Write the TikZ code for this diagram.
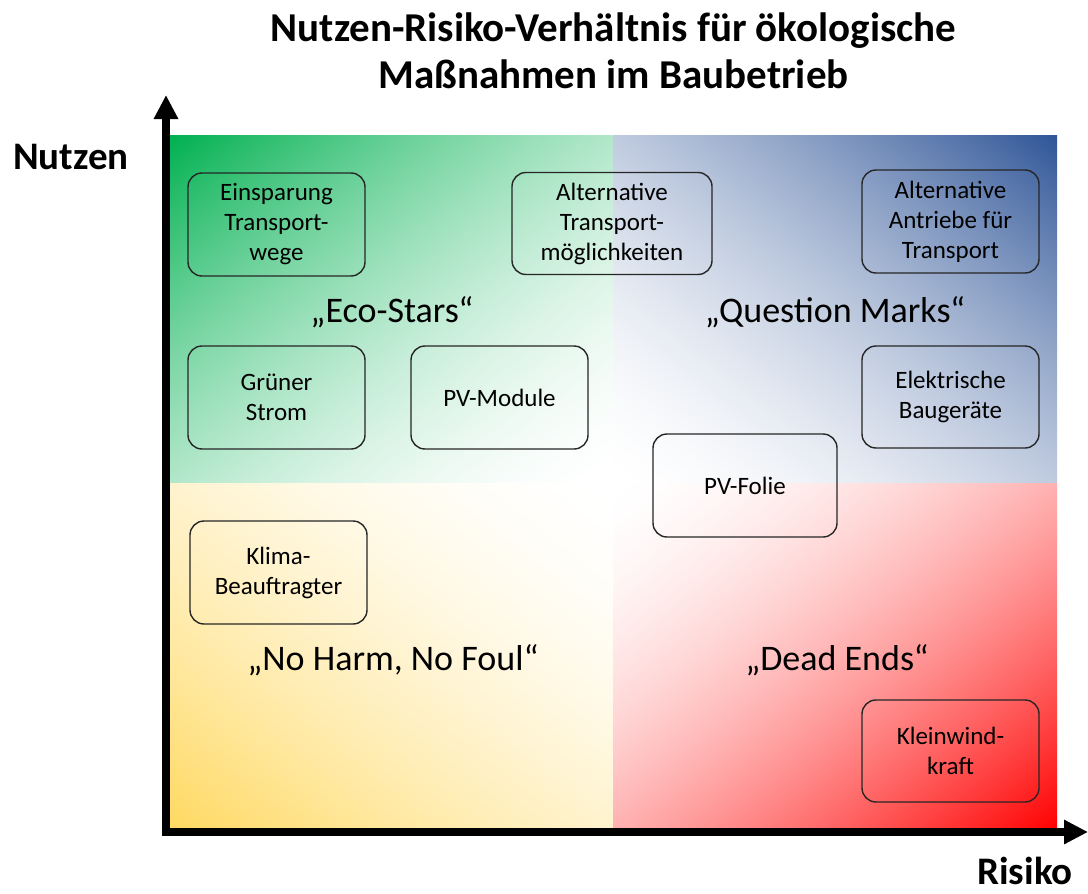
\documentclass[tikz,border=0pt]{standalone}
\usepackage{fontspec}
\setmainfont{Carlito}
\usetikzlibrary{arrows.meta}
% corner gradients: colour at one corner fading to white at the opposite corner
\pgfdeclarefunctionalshading{greenq}{\pgfpoint{-25bp}{-25bp}}{\pgfpoint{25bp}{25bp}}{}{
  sub 50 add 100 div neg 1 add abs 1.7 exp
  dup 1 mul neg 1 add exch dup 0.31 mul neg 1 add exch 0.686 mul neg 1 add }
\pgfdeclarefunctionalshading{blueq}{\pgfpoint{-25bp}{-25bp}}{\pgfpoint{25bp}{25bp}}{}{
  add neg 50 add 100 div neg 1 add abs 1.7 exp
  dup 0.816 mul neg 1 add exch dup 0.667 mul neg 1 add exch 0.408 mul neg 1 add }
\pgfdeclarefunctionalshading{yellowq}{\pgfpoint{-25bp}{-25bp}}{\pgfpoint{25bp}{25bp}}{}{
  add 50 add 100 div neg 1 add abs 1.7 exp
  dup 0 mul neg 1 add exch dup 0.15 mul neg 1 add exch 0.62 mul neg 1 add }
\pgfdeclarefunctionalshading{redq}{\pgfpoint{-25bp}{-25bp}}{\pgfpoint{25bp}{25bp}}{}{
  exch sub 50 add 100 div neg 1 add abs 1.7 exp
  dup 0 mul neg 1 add exch dup 1 mul neg 1 add exch 1 mul neg 1 add }
\tikzset{
  mbox/.style={draw=black!85, line width=1.4pt, rounded corners=14pt, align=center,
    inner sep=0pt, font=\fontsize{25}{30}\selectfont},
  qlabel/.style={font=\fontsize{36}{40}\selectfont, inner sep=0pt},
  axis/.style={line width=7.5pt, draw=black,
    {Triangle[width=23pt,length=24pt]}-{Triangle[width=23pt,length=24pt]}},
  axlabel/.style={font=\bfseries\fontsize{39}{44}\selectfont, inner sep=0pt}
}
\begin{document}
\begin{tikzpicture}[x=1pt,y=-1pt]
\useasboundingbox (0,0) rectangle (1088,894);
% quadrants
\shade[shading=greenq] (170,135) rectangle (612.5,482.5);
\shade[shading=blueq] (612.5,135) rectangle (1057,482.5);
\shade[shading=yellowq] (170,482.5) rectangle (612.5,829);
\shade[shading=redq] (612.5,482.5) rectangle (1057,829);
% axes
\coordinate (ytip) at (166,95);
\coordinate (O) at (166,832);
\coordinate (xtip) at (1088,832);
\draw[axis] (ytip) -- (O) -- (xtip);
% title
\node[font=\bfseries\fontsize{41}{47}\selectfont, align=center, inner sep=0pt] (title) at (613.5,51)
  {Nutzen-Risiko-Verhältnis für ökologische\\Maßnahmen im Baubetrieb};
\node[axlabel] (nutzen) at (71,157) {Nutzen};
\node[axlabel] (risiko) at (1025,871) {Risiko};
% quadrant labels
\node[qlabel] (eco) at (392,312) {„Eco-Stars“};
\node[qlabel] (qm) at (835,312) {„Question Marks“};
\node[qlabel] (nh) at (393,660) {„No Harm, No Foul“};
\node[qlabel] (de) at (837,660) {„Dead Ends“};
% boxes
\node[mbox, minimum width=177pt, minimum height=103pt] (e1) at (276.5,224.5) {Einsparung\\Transport-\\wege};
\node[mbox, minimum width=200pt, minimum height=102pt] (e2) at (612,223.5) {Alternative\\Transport-\\möglichkeiten};
\node[mbox, minimum width=177pt, minimum height=103pt] (e3) at (950.5,221.5) {Alternative\\Antriebe für\\Transport};
\node[mbox, minimum width=177pt, minimum height=103pt] (e4) at (276.5,397.5) {Grüner\\Strom};
\node[mbox, minimum width=177pt, minimum height=103pt] (e5) at (499.5,397.5) {PV-Module};
\node[mbox, minimum width=177pt, minimum height=102pt] (e6) at (950.5,397) {Elektrische\\Baugeräte};
\node[mbox, minimum width=184pt, minimum height=103pt] (e7) at (745,485.5) {PV-Folie};
\node[mbox, minimum width=177pt, minimum height=103pt] (e8) at (278.5,572.5) {Klima-\\Beauftragter};
\node[mbox, minimum width=177pt, minimum height=102pt] (e9) at (950.5,751) {Kleinwind-\\kraft};
\end{tikzpicture}
\end{document}
